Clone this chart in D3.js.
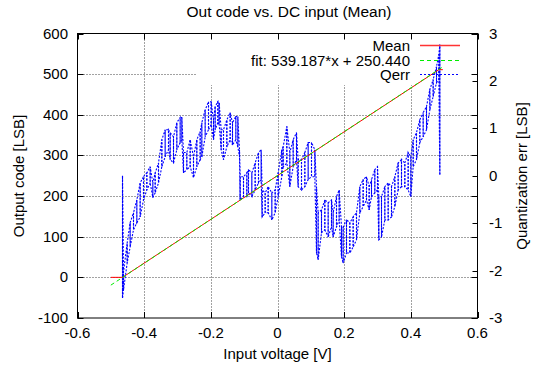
<!DOCTYPE html>
<html><head><meta charset="utf-8">
<script src="https://cdn.jsdelivr.net/npm/d3@7"></script>
<style>
html,body{margin:0;padding:0;background:#fff;}
svg{display:block;font-family:"Liberation Sans",Arial,sans-serif;}
</style></head>
<body><svg id="c" width="534" height="373"></svg>
<script>
// ---- data ----
const xTicks = [-0.6,-0.4,-0.2,0,0.2,0.4,0.6];
const yTicks = [-100,0,100,200,300,400,500,600];
const y2Ticks = [-3,-2,-1,0,1,2,3];
const legendLabels = ["Mean","fit: 539.187*x + 250.440","Qerr"];

const meanX = [-0.5, -0.465, 0.484, 0.496];
const meanY = [0, 0, 511, 511];
const fitX = [-0.5, 0.493];
const fitY = [-19.15, 516.3];

const qerrX = [-0.465,-0.462,-0.451,-0.442,-0.432,-0.422,-0.412,-0.402,-0.392,-0.382,
 -0.374,-0.367,-0.357,-0.347,-0.337,-0.327,-0.322,-0.312,-0.302,-0.292,
 -0.287,-0.282,-0.272,-0.262,-0.252,-0.242,-0.232,-0.227,-0.217,-0.207,
 -0.199,-0.192,-0.187,-0.179,-0.175,-0.169,-0.162,-0.152,-0.142,-0.135,
 -0.125,-0.119,-0.114,-0.112,-0.102,-0.092,-0.087,-0.077,-0.067,-0.057,
 -0.049,-0.046,-0.037,-0.028,-0.017,-0.007,0.002,0.013,0.017,0.028,
 0.037,0.047,0.057,0.062,0.072,0.082,0.092,0.102,0.112,0.117,
 0.122,0.132,0.142,0.152,0.162,0.167,0.177,0.185,0.192,0.197,
 0.207,0.217,0.227,0.237,0.247,0.257,0.267,0.275,0.282,0.292,
 0.300,0.304,0.312,0.322,0.332,0.342,0.352,0.362,0.372,0.382,
 0.392,0.400,0.407,0.417,0.427,0.437,0.447,0.457,0.467,0.477,
 0.484,0.487];
const qerrHi = [0.00,-2.03,-1.42,-0.99,-0.78,-0.51,-0.15,-0.02,0.06,0.19,
 -0.15,0.06,0.27,0.76,0.97,0.97,0.91,0.82,1.12,1.23,
 1.23,0.49,0.49,0.76,0.40,0.76,0.93,1.12,1.39,1.56,
 1.56,1.18,1.46,1.56,1.54,0.97,0.97,1.18,1.33,1.12,
 1.25,1.25,0.55,-0.02,-0.02,0.06,0.13,0.06,0.27,0.49,
 0.55,-0.30,-0.36,-0.23,-0.36,-0.30,0.06,0.55,0.61,1.04,
 0.49,0.76,0.91,0.34,0.34,0.49,0.70,0.70,0.55,-0.23,
 -0.78,-0.72,-0.51,-0.57,-0.51,-0.78,-0.44,-0.30,-1.08,-1.08,
 -0.93,-0.99,-0.87,-0.78,-0.23,-0.08,-0.02,-0.23,-0.08,0.13,
 0.19,-0.44,-0.44,-0.23,-0.15,-0.23,-0.02,0.27,0.34,0.27,
 0.49,0.40,0.76,0.91,1.18,1.33,1.46,1.82,2.03,2.30,
 2.56,2.77];
const qerrLo = [-2.58,-2.41,-1.84,-1.50,-1.14,-0.99,-0.87,-0.51,-0.30,-0.15,
 -0.46,-0.36,-0.15,0.19,0.40,0.55,0.34,0.27,0.55,0.70,
 0.76,0.06,0.13,0.19,-0.04,0.19,0.34,0.40,0.82,0.97,
 1.08,0.76,0.97,1.12,1.08,0.55,0.34,0.61,0.76,0.65,
 0.76,0.61,0.40,-0.51,-0.44,-0.44,-0.36,-0.44,-0.30,-0.15,
 -0.08,-0.87,-0.78,-0.78,-0.93,-0.78,-0.44,-0.02,0.19,0.27,
 -0.23,0.19,0.34,-0.23,-0.30,-0.23,-0.08,-0.02,-0.02,-1.63,
 -1.77,-1.20,-1.14,-1.29,-1.08,-1.29,-1.08,-0.93,-1.71,-1.84,
 -1.63,-1.63,-1.50,-1.35,-0.78,-0.65,-0.51,-0.72,-0.44,-0.36,
 -0.30,-1.35,-1.29,-0.93,-0.93,-0.87,-0.65,-0.30,-0.23,-0.23,
 -0.30,-0.44,0.19,0.34,0.70,0.82,0.97,1.39,1.67,1.96,
 2.03,0.02];

// ---- layout ----
const L = 77.5, R = 477.5, T = 33.5, B = 318;
const FS = 15;
const svg = d3.select("#c");
const x = d3.scaleLinear().domain([-0.6,0.6]).range([L,R]);
const y = d3.scaleLinear().domain([-100,600]).range([B,T]);
const y2 = d3.scaleLinear().domain([-3,3]).range([B,T]);
const px = v => Math.round(v)+0.5;

// grid
const g = svg.append("g");
xTicks.slice(1,-1).forEach(t=>{
  g.append("line").attr("x1",px(x(t))).attr("x2",px(x(t))).attr("y1",T).attr("y2",B)
   .attr("stroke","#444").attr("stroke-width",1).attr("stroke-dasharray","1,2");
});
yTicks.slice(1,-1).forEach(t=>{
  g.append("line").attr("x1",L).attr("x2",R).attr("y1",px(y(t))).attr("y2",px(y(t)))
   .attr("stroke","#444").attr("stroke-width",1).attr("stroke-dasharray","1,2");
});
// opaque key area
svg.append("rect").attr("x",197).attr("y",T+1).attr("width",R-197-1).attr("height",85-T-1).attr("fill","#fff");

// ticks (inward)
const tk = svg.append("g").attr("stroke","#000").attr("stroke-width",1);
xTicks.forEach(t=>{
  const xx = px(x(t));
  tk.append("line").attr("x1",xx).attr("x2",xx).attr("y1",B).attr("y2",B-6);
  tk.append("line").attr("x1",xx).attr("x2",xx).attr("y1",T).attr("y2",T+6);
});
yTicks.forEach(t=>{
  const yy = px(y(t));
  tk.append("line").attr("x1",L).attr("x2",L+6).attr("y1",yy).attr("y2",yy);
  tk.append("line").attr("x1",R).attr("x2",R-6).attr("y1",yy).attr("y2",yy);
});
y2Ticks.forEach(t=>{
  const yy = px(y2(t));
  tk.append("line").attr("x1",R).attr("x2",R-5).attr("y1",yy).attr("y2",yy);
});

// data lines
const lineY = d3.line().x(d=>x(d[0])).y(d=>y(d[1]));
const lineY2 = d3.line().x(d=>x(d[0])).y(d=>y2(d[1]));
// Qerr band: two zigzags of opposite phase through the read envelope values
[0,1].forEach(ph=>{
  const qpts = [];
  qerrX.forEach((v,i)=>{
    if((i+ph)%2===0){ qpts.push([v,qerrHi[i]]); qpts.push([v,qerrLo[i]]); }
    else { qpts.push([v,qerrLo[i]]); qpts.push([v,qerrHi[i]]); }
  });
  svg.append("path").attr("d",lineY2(qpts))
    .attr("fill","none").attr("stroke","#0000ff").attr("stroke-width",1.1)
    .attr("stroke-dasharray","2,1.5");
});
svg.append("path").attr("d",lineY(meanX.map((v,i)=>[v,meanY[i]])))
  .attr("fill","none").attr("stroke","#ff0000").attr("stroke-width",1);
svg.append("path").attr("d",lineY(fitX.map((v,i)=>[v,fitY[i]])))
  .attr("fill","none").attr("stroke","#00ee00").attr("stroke-width",1).attr("stroke-dasharray","4,3");

// border
svg.append("rect").attr("x",L).attr("y",T).attr("width",R-L).attr("height",B-T)
  .attr("fill","none").attr("stroke","#000").attr("stroke-width",1);

// tick labels
const tl = svg.append("g").attr("font-size",FS).attr("fill","#000");
xTicks.forEach(t=>{
  tl.append("text").attr("x",x(t)).attr("y",338).attr("text-anchor","middle").text(String(t));
});
yTicks.forEach(t=>{
  tl.append("text").attr("x",68).attr("y",y(t)+5).attr("text-anchor","end").text(String(t));
});
y2Ticks.forEach(t=>{
  tl.append("text").attr("x",489).attr("y",y2(t)+5).attr("text-anchor","start").text(String(t));
});

// titles
svg.append("text").attr("x",289).attr("y",17).attr("text-anchor","middle").attr("font-size",15.5).text("Out code vs. DC input (Mean)");
svg.append("text").attr("x",(L+R)/2).attr("y",359).attr("text-anchor","middle").attr("font-size",FS).text("Input voltage [V]");
svg.append("text").attr("transform","translate(24,176) rotate(-90)").attr("text-anchor","middle").attr("font-size",FS).text("Output code [LSB]");
svg.append("text").attr("transform","translate(527,176) rotate(-90)").attr("text-anchor","middle").attr("font-size",FS).text("Quantization err [LSB]");

// legend
const legY = [45.5,60.5,74.5];
const legStyle = [
  {c:"#ff3333",d:"none",w:1.6},
  {c:"#00ee00",d:"4,3",w:1.2},
  {c:"#0000ff",d:"2,2",w:1.2}
];
legendLabels.forEach((lab,i)=>{
  svg.append("text").attr("x",410).attr("y",legY[i]+5).attr("text-anchor","end").attr("font-size",FS).text(lab);
  svg.append("line").attr("x1",420).attr("x2",460).attr("y1",legY[i]).attr("y2",legY[i])
    .style("stroke",legStyle[i].c).style("stroke-width",legStyle[i].w).style("stroke-dasharray",legStyle[i].d);
});
</script></body></html>
